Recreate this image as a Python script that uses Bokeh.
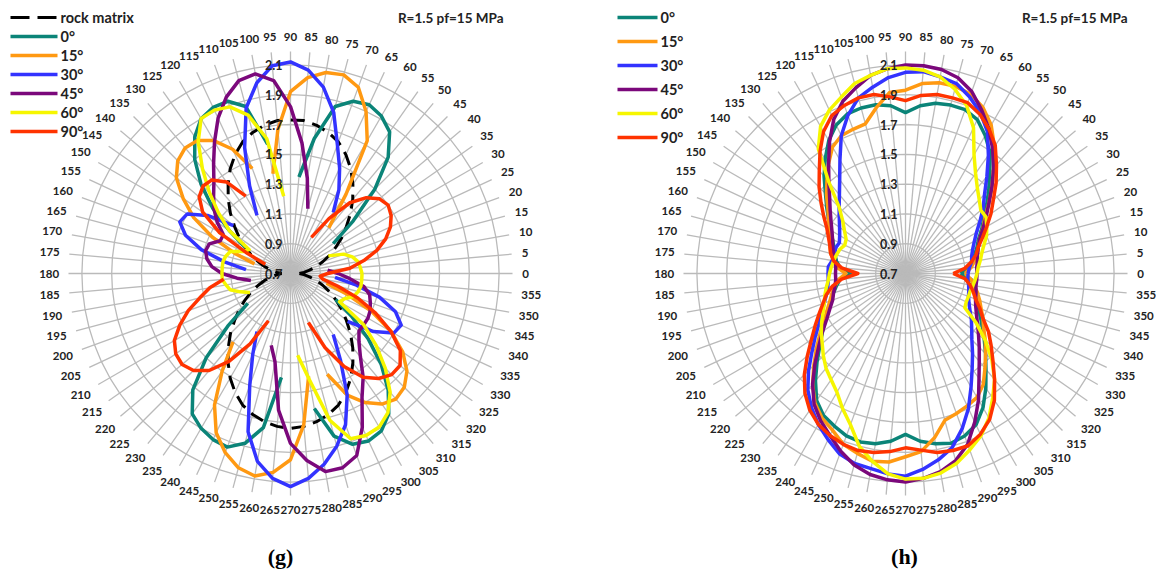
import math
import numpy as np
from bokeh.plotting import figure
from bokeh.models import Range1d
from bokeh.core.properties import value
from bokeh.embed import file_html
from bokeh.resources import INLINE

# ---------------- data ----------------
ANGLES = list(range(0, 360, 5))
RADIAL_TICKS = [0.7, 0.9, 1.1, 1.3, 1.5, 1.7, 1.9, 2.1]
R_MIN = 0.7
R_SPOKE = 2.19
TITLE = "R=1.5 pf=15 MPa"
PANEL_LABELS = ["(g)", "(h)"]
ROCK_LABEL = "rock matrix"
SERIES_LABELS = ["0°", "15°", "30°", "45°", "60°", "90°"]
SERIES_COLORS = ["#0b8478", "#ff9912", "#3333ff", "#7b087b", "#f6f600", "#ff3300"]
N = None

G_ROCK = [0.76, 0.79, 0.83, 0.88, 0.93, 0.99, 1.05, 1.12, 1.19, 1.27, 1.35, 1.43, 1.51, 1.58, 1.64, 1.68, 1.71, 1.73,
          1.73, 1.73, 1.71, 1.68, 1.64, 1.58, 1.51, 1.43, 1.35, 1.27, 1.19, 1.12, 1.05, 0.99, 0.93, 0.88, 0.83, 0.79,
          0.76, 0.79, 0.83, 0.88, 0.93, 0.99, 1.05, 1.12, 1.19, 1.27, 1.35, 1.43, 1.51, 1.58, 1.64, 1.68, 1.71, 1.73,
          1.74, 1.73, 1.71, 1.68, 1.64, 1.58, 1.51, 1.43, 1.35, 1.27, 1.19, 1.12, 1.05, 0.99, 0.93, 0.88, 0.83, 0.79]

G_0 = [N, N, N, N, N, N, N,
       1.05, 1.25, 1.5, 1.72, 1.86, 1.92, 1.95, 1.93, 1.86, 1.62, 1.35,
       N, N,
       1.58, 1.86, 1.93, 1.93, 1.9, 1.82, 1.7, 1.55, 1.38, 1.2, 1.05,
       N, N, N, N, N, N, N, N, N, N, N, N,
       1.05, 1.25, 1.5, 1.72, 1.85, 1.9, 1.93, 1.94, 1.88, 1.75, 1.4,
       N, N,
       1.62, 1.83, 1.92, 1.94, 1.92, 1.85, 1.72, 1.56, 1.38, 1.2, 1.05,
       N, N, N, N, N]

G_15 = [N, N, N, N, N, N, N, N, N, N,
        1.1, 1.35, 1.73, 1.9, 2.03, 2.08, 2.07, 2.02, 1.92, 1.67, 1.38,
        N,
        1.45, 1.62, 1.73, 1.79, 1.8, 1.77, 1.7, 1.58, 1.45, 1.28, 1.1, 0.95,
        N, N, N, N, N, N, N, N, N, N, N, N,
        1.3, 1.5, 1.72, 1.88, 1.98, 2.05, 2.08, 2.04, 1.95, 1.72, 1.4,
        N,
        1.42, 1.6, 1.7, 1.77, 1.8, 1.78, 1.72, 1.62, 1.48, 1.3, 1.1, 0.95,
        N, N]

G_30 = [N, N, N, N, N, N, N, N, N, N, N,
        1.2, 1.35, 1.48, 1.62, 1.82, 1.97, 2.07, 2.12, 2.1, 2.0, 1.85, 1.6, 1.35, 1.15,
        N, N, N,
        1.2, 1.38, 1.5, 1.52, 1.45, 1.32, 1.15, 1.0,
        N, N, N, N, N, N, N, N, N, N, N, N,
        1.15, 1.3, 1.5, 1.8, 1.98, 2.08, 2.13, 2.08, 2.0, 1.9, 1.78, 1.6, 1.37, 1.2,
        N, N,
        1.2, 1.38, 1.5, 1.52, 1.45, 1.32, 1.15, 1.0]

G_45 = [1.02, 0.95,
        N, N, N, N, N, N, N, N, N, N, N, N, N,
        1.15, 1.35, 1.58, 1.82, 2.0, 2.06, 2.04, 1.96, 1.85, 1.72, 1.6, 1.5, 1.43, 1.37, 1.3, 1.22,
        1.22, 1.28, 1.29, 1.27, 1.23, 1.16, 1.06, 0.97,
        N, N, N, N, N, N, N, N, N, N, N, N,
        1.2, 1.3, 1.62, 1.84, 1.96, 2.05, 2.05, 2.0, 1.84, 1.66, 1.55, 1.43, 1.35, 1.3, 1.3, 1.3,
        1.29, 1.27, 1.25, 1.2, 1.1]

G_60 = [1.18, 1.17, 1.16, 1.13, 1.08, 0.98,
        N, N, N, N, N, N, N, N, N, N, N, N, N,
        1.22, 1.62, 1.8, 1.89, 1.91, 1.9, 1.78, 1.62, 1.47, 1.33, 1.2, 1.02, 1.05, 1.13, 1.15, 1.16,
        1.16, 1.16, 1.16, 1.14, 1.12, 1.06, 1.0,
        N, N, N, N, N, N, N, N, N, N, N, N, N,
        1.25, 1.42, 1.72, 1.88, 1.9, 1.89, 1.84, 1.74, 1.6, 1.45, 1.3, 1.08, 1.1, 1.15, 1.17, 1.18, 1.18]

G_90 = [0.95, 1.1, 1.2, 1.3, 1.38, 1.44, 1.48, 1.5, 1.48, 1.42, 1.32, 1.15, 0.98,
        N, N, N, N, N, N, N, N, N, N, N,
        1.3, 1.45, 1.52, 1.53, 1.5, 1.42, 1.25, 1.02, 0.88,
        N, N, N, N,
        1.15, 1.25, 1.33, 1.43, 1.52, 1.6, 1.64, 1.65, 1.62, 1.55, 1.42, 1.25, 1.05,
        N, N, N, N, N, N, N, N,
        1.05, 1.25, 1.42, 1.55, 1.62, 1.66, 1.66, 1.6, 1.48, 1.33, 1.18, 1.03, 0.92, 0.9]

H_0 = [1.07, 1.13, 1.16, 1.18, 1.21, 1.24, 1.29, 1.34, 1.41, 1.49, 1.58, 1.69, 1.77, 1.84, 1.87, 1.87, 1.86, 1.83,
       1.78, 1.83, 1.85, 1.85, 1.84, 1.8, 1.73, 1.64, 1.55, 1.46, 1.39, 1.33, 1.28, 1.24, 1.21, 1.19, 1.17, 1.14,
       1.06, 1.14, 1.17, 1.2, 1.23, 1.27, 1.32, 1.38, 1.45, 1.54, 1.64, 1.74, 1.8, 1.83, 1.86, 1.87, 1.86, 1.83,
       1.78, 1.83, 1.86, 1.88, 1.86, 1.82, 1.74, 1.64, 1.54, 1.46, 1.39, 1.33, 1.28, 1.24, 1.21, 1.19, 1.17, 1.14]

H_15 = [1.1, 1.14, 1.17, 1.2, 1.22, 1.25, 1.3, 1.35, 1.43, 1.52, 1.62, 1.74, 1.85, 1.93, 1.98, 2.0, 2.0, 1.98,
        1.93, 1.92, 1.83, 1.74, 1.73, 1.72, 1.68, 1.6, 1.52, 1.45, 1.38, 1.33, 1.29, 1.26, 1.24, 1.22, 1.19, 1.16,
        1.1, 1.15, 1.18, 1.21, 1.24, 1.28, 1.33, 1.4, 1.48, 1.57, 1.67, 1.76, 1.82, 1.86, 1.92, 1.95, 1.98, 1.97,
        1.93, 1.9, 1.82, 1.72, 1.7, 1.68, 1.66, 1.61, 1.53, 1.46, 1.4, 1.34, 1.3, 1.26, 1.23, 1.2, 1.17, 1.14]

H_30 = [1.12, 1.13, 1.15, 1.16, 1.18, 1.21, 1.25, 1.31, 1.38, 1.45, 1.55, 1.67, 1.8, 1.89, 1.96, 2.02, 2.04, 2.06,
        2.05, 2.02, 1.97, 1.92, 1.83, 1.72, 1.58, 1.47, 1.39, 1.33, 1.28, 1.24, 1.21, 1.19, 1.2, 1.19, 1.2, 1.22,
        1.22, 1.22, 1.23, 1.25, 1.28, 1.32, 1.37, 1.44, 1.52, 1.62, 1.72, 1.8, 1.87, 1.93, 1.99, 2.02, 2.03, 2.05,
        2.06, 2.02, 1.97, 1.91, 1.81, 1.7, 1.58, 1.48, 1.4, 1.33, 1.28, 1.24, 1.2, 1.17, 1.15, 1.14, 1.13, 1.12]

H_45 = [1.18, 1.18, 1.19, 1.2, 1.22, 1.25, 1.3, 1.36, 1.43, 1.52, 1.62, 1.72, 1.82, 1.91, 2.0, 2.06, 2.09, 2.1,
        2.1, 2.08, 2.05, 1.99, 1.93, 1.84, 1.72, 1.6, 1.5, 1.42, 1.36, 1.31, 1.27, 1.24, 1.22, 1.2, 1.18, 1.17,
        1.17, 1.17, 1.18, 1.2, 1.22, 1.26, 1.31, 1.38, 1.46, 1.56, 1.67, 1.77, 1.84, 1.9, 1.97, 2.03, 2.07, 2.09,
        2.1, 2.08, 2.05, 2.0, 1.92, 1.8, 1.68, 1.56, 1.47, 1.4, 1.34, 1.29, 1.25, 1.22, 1.2, 1.19, 1.18, 1.18]

H_60 = [1.18, 1.19, 1.21, 1.23, 1.26, 1.3, 1.33, 1.36, 1.36, 1.4, 1.45, 1.52, 1.62, 1.78, 1.9, 1.98, 2.04, 2.07,
        2.08, 2.08, 2.05, 2.02, 1.96, 1.91, 1.84, 1.72, 1.5, 1.33, 1.25, 1.2, 1.16, 1.15, 1.17, 1.18, 1.19, 1.2,
        1.21, 1.22, 1.24, 1.26, 1.28, 1.31, 1.35, 1.39, 1.43, 1.48, 1.53, 1.57, 1.62, 1.7, 1.78, 1.9, 1.98, 2.05,
        2.08, 2.08, 2.06, 2.02, 1.96, 1.9, 1.82, 1.72, 1.63, 1.52, 1.4, 1.28, 1.16, 1.15, 1.15, 1.15, 1.16, 1.17]

H_90 = [1.02, 1.1, 1.15, 1.19, 1.22, 1.27, 1.33, 1.4, 1.47, 1.56, 1.65, 1.75, 1.82, 1.88, 1.92, 1.92, 1.92, 1.9,
        1.86, 1.89, 1.92, 1.92, 1.9, 1.87, 1.8, 1.7, 1.6, 1.52, 1.44, 1.37, 1.31, 1.27, 1.24, 1.22, 1.19, 1.13,
        1.02, 1.13, 1.2, 1.25, 1.29, 1.34, 1.4, 1.47, 1.56, 1.66, 1.75, 1.82, 1.87, 1.9, 1.92, 1.93, 1.92, 1.9,
        1.87, 1.89, 1.92, 1.93, 1.93, 1.89, 1.83, 1.74, 1.63, 1.53, 1.45, 1.38, 1.3, 1.25, 1.2, 1.17, 1.14, 1.1]

G_SERIES = [G_0, G_15, G_30, G_45, G_60, G_90]
H_SERIES = [H_0, H_15, H_30, H_45, H_60, H_90]

# ---------------- layout (picture pixels) ----------------
W, H = 1156, 572
CY = 273
CX = [290, 905]
SCALE = 149.0  # px per unit of the radial axis
GRID_COLOR = "#bababa"
TEXT_COLOR = "#222222"
FONT = "Lato"


def polar_xy(cx, vals):
    xs, ys = [], []
    angs = ANGLES + [ANGLES[0] + 360]
    vv = list(vals) + [vals[0]]
    for a, v in zip(angs, vv):
        if v is None:
            xs.append(np.nan)
            ys.append(np.nan)
        else:
            r = (v - R_MIN) * SCALE
            t = math.radians(a)
            xs.append(cx + r * math.cos(t))
            ys.append(CY - r * math.sin(t))
    return xs, ys


p = figure(width=W, height=H, x_range=Range1d(0, W), y_range=Range1d(H, 0),
           output_backend="svg", toolbar_location=None, min_border=0,
           x_axis_type=None, y_axis_type=None)
p.grid.visible = False
p.outline_line_color = None
p.background_fill_color = "white"
p.border_fill_color = "white"

for k, cx in enumerate(CX):
    # spokes
    rmax = (R_SPOKE - R_MIN) * SCALE
    x1 = [cx + rmax * math.cos(math.radians(a)) for a in ANGLES]
    y1 = [CY - rmax * math.sin(math.radians(a)) for a in ANGLES]
    p.segment(x0=[cx] * len(ANGLES), y0=[CY] * len(ANGLES), x1=x1, y1=y1,
              line_color=GRID_COLOR, line_width=1.3)
    # rings
    rxs, rys = [], []
    for tv in RADIAL_TICKS[1:]:
        xs, ys = polar_xy(cx, [tv] * len(ANGLES))
        rxs.append(xs)
        rys.append(ys)
    p.multi_line(xs=rxs, ys=rys, line_color=GRID_COLOR, line_width=1.3)
    # angle labels
    lx, ly, lt = [], [], []
    for a in ANGLES:
        s = str(a)
        w = 6.2 * len(s)
        h = 9.0
        t = math.radians(a)
        rc = rmax + 10 + (w / 2) * abs(math.cos(t)) + (h / 2) * abs(math.sin(t))
        lx.append(cx + rc * math.cos(t))
        ly.append(CY - rc * math.sin(t))
        lt.append(s)
    p.text(x=lx, y=ly, text=lt, text_font=value(FONT), text_font_size="11.5px",
           text_font_style="bold", text_color=TEXT_COLOR, text_align="center",
           text_baseline="middle")

    # series
    if k == 0:
        xs, ys = polar_xy(cx, G_ROCK)
        p.line(xs, ys, line_color="black", line_width=3, line_dash="14 8")
        series = G_SERIES
    else:
        series = H_SERIES
    for vals, col in zip(series, SERIES_COLORS):
        xs, ys = polar_xy(cx, vals)
        p.line(xs, ys, line_color=col, line_width=3.5, line_join="round")

    # radial tick labels
    p.text(x=[cx - 8] * len(RADIAL_TICKS),
           y=[CY - (tv - R_MIN) * SCALE for tv in RADIAL_TICKS],
           text=[f"{tv:.1f}" for tv in RADIAL_TICKS],
           text_font=value(FONT), text_font_size="12.5px", text_font_style="bold",
           text_color=TEXT_COLOR, text_align="right", text_baseline="middle")

    # title
    p.text(x=[cx + 213 if k == 0 else cx + 222], y=[17], text=[TITLE],
           text_font=value(FONT), text_font_size="13.5px", text_font_style="bold",
           text_color=TEXT_COLOR, text_align="right", text_baseline="middle")

    # panel label
    p.text(x=[280 if k == 0 else 904], y=[556], text=[PANEL_LABELS[k]],
           text_font=value("Liberation Serif"), text_font_size="22px",
           text_font_style="bold", text_color="black", text_align="center",
           text_baseline="middle")

# legends
g_rows = [17, 36, 55, 74, 93, 112, 131]
p.line([10, 57], [g_rows[0], g_rows[0]], line_color="black", line_width=3, line_dash="19 8")
for i, (lab, col) in enumerate(zip(SERIES_LABELS, SERIES_COLORS)):
    yy = g_rows[i + 1]
    p.line([10, 57], [yy, yy], line_color=col, line_width=3.5)
p.text(x=[60] * 7, y=g_rows, text=[ROCK_LABEL] + SERIES_LABELS, text_font=value(FONT),
       text_font_size="14.5px", text_font_style="bold", text_color=TEXT_COLOR,
       text_align="left", text_baseline="middle")

h_rows = [17, 41, 65, 89, 113, 137]
for i, (lab, col) in enumerate(zip(SERIES_LABELS, SERIES_COLORS)):
    yy = h_rows[i]
    p.line([617, 657], [yy, yy], line_color=col, line_width=3.5)
p.text(x=[660] * 6, y=h_rows, text=SERIES_LABELS, text_font=value(FONT),
       text_font_size="14.5px", text_font_style="bold", text_color=TEXT_COLOR,
       text_align="left", text_baseline="middle")

open("out.html", "w").write(file_html(p, INLINE))
